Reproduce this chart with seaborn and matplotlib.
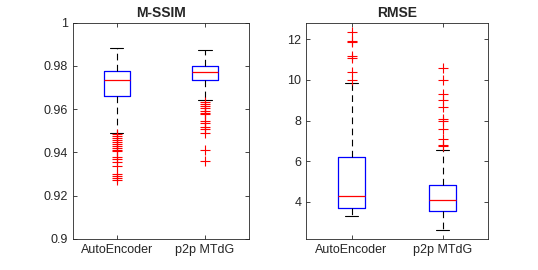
import numpy as np
import pandas as pd
from matplotlib import pyplot as plt
import seaborn as sns

methods = ['AutoEncoder', 'p2p MTdG']

# five-number summaries: lower whisker, q1, median, q3, upper whisker
ssim_ae_box = [0.9492, 0.9663, 0.9736, 0.9778, 0.9884]
ssim_p2p_box = [0.9643, 0.9735, 0.9771, 0.9800, 0.9874]
ssim_ae_out = [0.9485, 0.9476, 0.9468, 0.9458, 0.9450, 0.9438, 0.9431, 0.9422,
               0.9411, 0.9407, 0.9378, 0.9368, 0.9357, 0.9339, 0.9299, 0.9291,
               0.9281, 0.9273]
ssim_p2p_out = [0.9633, 0.9624, 0.9615, 0.9604, 0.9593, 0.9581, 0.9578, 0.9547,
                0.9538, 0.9516, 0.9507, 0.9491, 0.9411, 0.9362]

rmse_ae_box = [3.33, 3.72, 4.31, 6.19, 9.84]
rmse_p2p_box = [2.64, 3.57, 4.10, 4.83, 6.55]
rmse_ae_out = [12.38, 11.93, 11.85, 11.18, 11.10, 10.40, 9.98]
rmse_p2p_out = [10.57, 10.0, 9.31, 9.02, 8.69, 8.07, 8.0, 7.58, 7.12, 6.81, 6.76]

ssim_ticks = [0.9, 0.92, 0.94, 0.96, 0.98, 1.0]
ssim_ticklabels = ['0.9', '0.92', '0.94', '0.96', '0.98', '1']
rmse_ticks = [4, 6, 8, 10, 12]
rmse_ticklabels = ['4', '6', '8', '10', '12']

sns.set_style('ticks')
plt.rcParams['font.family'] = ['Liberation Sans', 'DejaVu Sans']

fig = plt.figure(figsize=(5.38, 2.70), dpi=100)
ax1 = fig.add_axes([0.135, 0.115, 0.328, 0.801])
ax2 = fig.add_axes([0.569, 0.115, 0.338, 0.801])


def long_df(a, b):
    return pd.DataFrame({
        'method': [methods[0]] * len(a) + [methods[1]] * len(b),
        'value': list(a) + list(b),
    })


def draw(ax, box_a, box_b, out_a, out_b, title, ylim, ticks, ticklabels):
    sns.boxplot(data=long_df(box_a, box_b), x='method', y='value', order=methods,
                ax=ax, whis=(0, 100), width=0.3, fill=False, color='blue',
                linewidth=0.9,
                boxprops=dict(color='blue', linewidth=0.9),
                medianprops=dict(color='red', linewidth=0.9),
                whiskerprops=dict(color='black', linestyle=(0, (6, 4)), linewidth=0.8),
                capprops=dict(color='black', linewidth=0.8))
    sns.stripplot(data=long_df(out_a, out_b), x='method', y='value', order=methods,
                  ax=ax, jitter=False, marker='+', color='red', size=7,
                  linewidth=0.8)
    ax.set_xlim(-0.5, 1.5)
    ax.set_ylim(*ylim)
    ax.set_yticks(ticks)
    ax.set_yticklabels(ticklabels)
    ax.set_xlabel('')
    ax.set_ylabel('')
    ax.set_title(title, fontsize=10, fontweight='bold', pad=4)
    ax.tick_params(direction='in', top=True, right=True, labelsize=9,
                   colors='0.15', length=3, width=0.6)
    for s in ax.spines.values():
        s.set_visible(True)
        s.set_color('0.15')
        s.set_linewidth(0.6)


draw(ax1, ssim_ae_box, ssim_p2p_box, ssim_ae_out, ssim_p2p_out, 'M-SSIM',
     (0.9, 1.0), ssim_ticks, ssim_ticklabels)
draw(ax2, rmse_ae_box, rmse_p2p_box, rmse_ae_out, rmse_p2p_out, 'RMSE',
     (2.18, 12.82), rmse_ticks, rmse_ticklabels)

plt.savefig('out.png', dpi=100)
